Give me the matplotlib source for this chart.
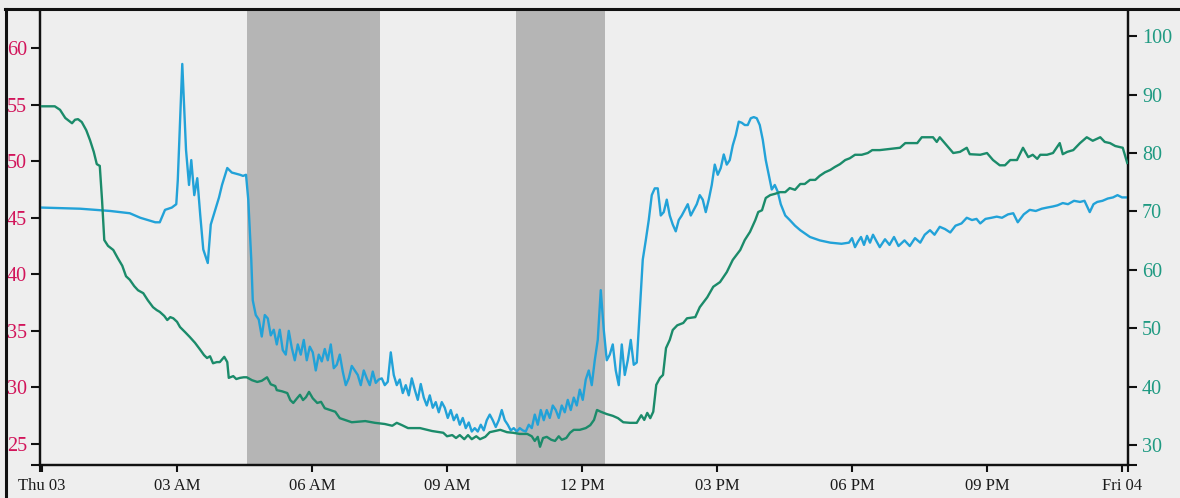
import matplotlib
matplotlib.use("Agg")
import matplotlib.pyplot as plt
from matplotlib.lines import Line2D
import matplotlib.ticker as mticker
import pandas as pd

# ---------------- data ----------------
day_start = pd.Timestamp("2019-01-03 00:00")

# blue series (left axis): minutes after midnight, value
blue_min = [0, 51, 91, 117, 131, 151, 157, 164, 173, 179, 181, 187, 192, 196, 199, 203, 207, 211, 215, 221,
            225, 231, 236, 240, 247, 253, 264, 268, 272, 275, 279, 281, 285, 289, 293, 297, 301, 305, 309, 313,
            317, 321, 325, 329, 333, 337, 341, 345, 349, 353, 357, 361, 365, 369, 373, 377, 381, 385, 389, 393,
            397, 401, 405, 409, 413, 417, 421, 425, 429, 433, 437, 441, 445, 449, 453, 457, 461, 465, 469, 473,
            477, 481, 485, 489, 493, 497, 501, 505, 509, 513, 517, 521, 525, 529, 533, 537, 541, 545, 549, 553,
            557, 561,
            565, 569, 573, 577, 581, 585, 589, 593, 597, 601,
            605, 609, 613, 617, 621, 625, 629, 633, 637, 641,
            645, 649, 653, 657, 661, 665, 669, 673, 677, 681,
            685, 689, 693, 697, 701, 705, 709, 713, 717, 721,
            725, 729, 733, 737, 741, 745, 749, 753, 757, 761,
            765, 769, 773, 777, 781, 785, 789, 793, 797, 801,
            805, 809, 813, 817, 821, 825, 829, 833, 837, 841,
            845, 849, 853, 857, 861, 865, 869, 873, 877, 881,
            885, 889, 893, 897, 901, 905, 909, 913, 917, 921,
            925, 929, 933, 937, 941, 945, 949, 953, 957, 961,
            965, 969, 973, 977, 981,
            985, 991, 997, 1004, 1011, 1024, 1037, 1051, 1066, 1076,
            1080, 1084, 1088, 1092, 1096, 1100, 1104, 1108, 1112, 1117, 1124, 1130, 1136, 1142, 1150, 1157, 1164, 1171,
            1177, 1184, 1190, 1197, 1204, 1211, 1218, 1226, 1233, 1240, 1246, 1251, 1258, 1266, 1273, 1280, 1288, 1295,
            1301, 1309, 1317, 1325, 1333, 1340, 1348, 1354, 1361, 1368, 1376, 1384, 1390, 1397, 1402, 1407, 1414, 1421,
            1428, 1434, 1440, 1446]
blue_val = [45.9, 45.8, 45.6, 45.4, 45.0, 44.6, 44.6, 45.7, 45.9, 46.2, 48.3, 58.6, 51.0, 47.9, 50.1, 47.0, 48.5, 45.2, 42.2, 41.0,
            44.4, 45.7, 46.8, 47.9, 49.4, 49.0, 48.8, 48.7, 48.8, 46.6, 41.3, 37.7, 36.4, 36.0, 34.5, 36.4, 36.1, 34.6, 35.1, 33.8,
            35.1, 33.3, 32.9, 35.0, 33.5, 32.4, 33.8, 32.9, 34.2, 32.4, 33.6, 33.1, 31.5, 32.9, 32.3, 33.4, 32.4, 33.8, 31.7, 32.0,
            32.9, 31.4, 30.2, 30.8, 31.9, 31.5, 31.1, 30.2, 31.5, 30.8, 30.2, 31.4, 30.4, 30.7, 30.8, 30.2, 30.5, 33.1, 31.1, 30.2,
            30.7, 29.5, 30.2, 29.3, 30.8, 29.8, 28.9, 30.3, 29.1, 28.4, 29.3, 28.2, 28.7, 27.8, 28.7, 28.2, 27.3, 28.0, 27.1, 27.6,
            26.7, 27.3,
            26.4, 26.9, 26.1, 26.4, 26.1, 26.7, 26.2, 27.1, 27.6, 27.1,
            26.5, 27.1, 28.0, 27.1, 26.7, 26.2, 26.4, 26.1, 26.4, 26.2,
            26.1, 26.7, 26.4, 27.6, 26.7, 28.0, 27.1, 28.0, 27.3, 28.4,
            28.0, 27.3, 28.4, 27.8, 28.9, 28.0, 29.1, 28.4, 29.8, 28.9,
            30.7, 31.5, 30.2, 32.4, 34.2, 38.6, 35.1, 32.4, 32.9, 33.8,
            31.5, 30.2, 33.8, 31.1, 32.4, 34.2, 32.0, 32.2, 36.8, 41.3,
            43.0, 44.8, 47.0, 47.6, 47.6, 45.2, 45.5, 46.6, 45.2, 44.4,
            43.8, 44.8, 45.2, 45.7, 46.2, 45.2, 45.7, 46.2, 47.0, 46.6,
            45.5, 46.6, 47.9, 49.7, 48.8, 49.4, 50.6, 49.7, 50.1, 51.4,
            52.3, 53.5, 53.4, 53.2, 53.2, 53.8, 53.9, 53.8, 53.2, 51.9,
            50.1, 48.8, 47.5, 47.9, 47.3,
            46.2, 45.2, 44.8, 44.3, 43.9, 43.3, 43.0, 42.8, 42.7, 42.8,
            43.2, 42.4, 42.9, 43.3, 42.6, 43.4, 42.8, 43.5, 43.0, 42.4, 43.1, 42.6, 43.3, 42.5, 43.0, 42.5, 43.2, 42.8,
            43.5, 43.9, 43.5, 44.2, 44.0, 43.7, 44.3, 44.5, 45.0, 44.8, 44.9, 44.5, 44.9, 45.0, 45.1, 45.0, 45.3, 45.4,
            44.6, 45.3, 45.7, 45.6, 45.8, 45.9, 46.0, 46.1, 46.3, 46.2, 46.5, 46.4, 46.5, 45.5, 46.2, 46.4, 46.5, 46.7,
            46.8, 47.0, 46.8, 46.8]

# green series (right axis): minutes after midnight, value
green_min = [0, 17, 24, 31, 40, 44, 48, 53, 59, 64, 69, 73, 77, 80, 83, 88, 95, 101, 107, 112,
             117, 123, 128, 135, 141, 148, 153, 157, 163, 167, 171, 175, 180, 184, 191, 197, 204, 211, 216, 220,
             224, 228, 233, 237, 243, 247, 249, 255, 259, 264, 269, 273, 280, 287, 293, 300, 305, 311, 313, 320,
             327, 331, 335, 340, 344, 348, 352, 356, 361, 367, 372, 377, 384, 391, 397, 404, 413, 431, 444, 457,
             467, 473, 480, 488, 504, 520, 535, 540, 547, 552, 557, 563, 568, 573, 579, 584, 591, 597, 604, 611,
             620, 628, 637, 647, 653, 657, 661, 664, 668, 673, 679, 684, 689, 693, 699, 704, 709, 717, 725, 731,
             736, 740, 745, 753, 761, 768, 775, 784, 793, 799, 803, 807, 811, 815, 819, 824, 828, 832, 837, 841,
             847, 855, 860, 871, 877, 887, 895, 904, 913, 921, 931, 937, 944, 951, 955, 960, 965, 971, 977, 984,
             991, 997, 1004, 1011, 1017, 1024, 1031, 1037, 1044, 1051, 1057, 1064, 1071, 1077, 1084, 1093, 1101, 1107, 1117, 1131,
             1144, 1151, 1167, 1173, 1188, 1193, 1197, 1215, 1224, 1233, 1237, 1251, 1260, 1268, 1277, 1284, 1291, 1300, 1308, 1315,
             1321, 1327, 1331, 1340, 1348, 1357, 1361, 1367, 1375, 1384, 1393, 1401, 1411, 1417, 1424, 1431, 1441, 1447]
green_val = [88.0, 88.0, 87.4, 86.0, 85.1, 85.7, 85.8, 85.3, 83.9, 82.2, 80.2, 78.1, 77.8, 72.0, 65.1, 64.1, 63.4, 62.0, 60.7, 58.9,
             58.3, 57.2, 56.5, 56.0, 54.8, 53.6, 53.1, 52.8, 52.1, 51.4, 51.9, 51.7, 51.1, 50.2, 49.3, 48.5, 47.5, 46.3, 45.4, 44.9,
             45.2, 44.0, 44.2, 44.2, 45.1, 44.2, 41.5, 41.8, 41.3, 41.5, 41.6, 41.6, 41.1, 40.8, 41.0, 41.6, 40.4, 40.1, 39.4, 39.2,
             38.9, 37.7, 37.2, 38.0, 38.6, 37.7, 38.2, 39.1, 38.0, 37.2, 37.4, 36.3, 36.0, 35.7, 34.6, 34.3, 33.9, 34.1, 33.8, 33.6,
             33.3, 33.8, 33.4, 32.9, 32.9, 32.4, 32.1, 31.5, 31.7, 31.2, 31.7, 31.0, 31.7, 31.0, 31.5, 31.0, 31.4, 32.2, 32.4, 32.6,
             32.2, 32.1, 31.9, 31.9, 31.5, 30.7, 31.4, 29.7, 31.2, 31.4, 30.9, 30.7, 31.5, 30.9, 31.2, 32.1, 32.6, 32.6, 32.9, 33.4,
             34.3, 36.0, 35.7, 35.3, 35.0, 34.6, 33.9, 33.8, 33.8, 35.1, 34.3, 35.5, 34.6, 35.7, 40.3, 41.5, 42.0, 46.6, 48.0, 49.7,
             50.5, 50.9, 51.7, 51.9, 53.6, 55.3, 57.1, 57.9, 59.6, 61.7, 63.4, 65.1, 66.5, 68.5, 69.9, 70.2, 72.3, 72.8, 73.0, 73.3,
             73.3, 74.0, 73.7, 74.7, 74.7, 75.4, 75.4, 76.1, 76.7, 77.1, 77.6, 78.1, 78.8, 79.1, 79.7, 79.7, 80.0, 80.5, 80.5, 80.7,
             80.9, 81.7, 81.7, 82.7, 82.7, 81.9, 82.7, 80.0, 80.2, 80.9, 79.8, 79.7, 80.0, 78.8, 77.9, 77.9, 78.8, 78.8, 80.9, 79.3,
             79.7, 79.0, 79.7, 79.7, 80.0, 81.7, 79.8, 80.2, 80.5, 81.7, 82.7, 82.1, 82.7, 81.9, 81.7, 81.2, 80.9, 78.3]

# shaded periods (minutes after midnight)
band_start = [273, 632]
band_end = [451, 751]

left_ticks = [25, 30, 35, 40, 45, 50, 55, 60]
right_ticks = [30, 40, 50, 60, 70, 80, 90, 100]

assert len(blue_min) == len(blue_val), (len(blue_min), len(blue_val))
assert len(green_min) == len(green_val), (len(green_min), len(green_val))

# ---------------- style ----------------
BG = "#eeeeee"
BAND = "#b5b5b5"
BLUE = "#22a2d8"
GREEN = "#1b8b6a"
LEFT_TXT = "#d2145a"
RIGHT_TXT = "#1f9a82"
FONT = "Liberation Serif"

W, H = 1180, 498
fig = plt.figure(figsize=(W / 100, H / 100), dpi=100, facecolor=BG)

ax_l, ax_r, ax_b, ax_t = 40, 1128, 465, 10
ax = fig.add_axes([ax_l / W, 1 - ax_b / H, (ax_r - ax_l) / W, (ax_b - ax_t) / H])
ax.set_facecolor(BG)

def to_dt(mins):
    return [day_start + pd.Timedelta(minutes=m) for m in mins]

blue_t = to_dt(blue_min)
green_t = to_dt(green_min)

for s, e in zip(band_start, band_end):
    ax.axvspan(day_start + pd.Timedelta(minutes=s), day_start + pd.Timedelta(minutes=e),
               color=BAND, lw=0, zorder=0)

ax.plot(blue_t, blue_val, color=BLUE, lw=1.7, zorder=3, solid_joinstyle="round")

ax2 = ax.twinx()
ax2.plot(green_t, green_val, color=GREEN, lw=1.7, zorder=3, solid_joinstyle="round")

xmin = day_start + pd.Timedelta(minutes=-2.7)
xmax = day_start + pd.Timedelta(minutes=1448)
ax.set_xlim(xmin, xmax)
ax.set_ylim(23.14, 63.37)
ax2.set_ylim(26.58, 104.49)

# x ticks every 3 hours
xt = [day_start + pd.Timedelta(hours=h) for h in range(0, 25, 3)]
ax.set_xticks(xt)
def fmt(t):
    if t.hour == 0:
        return t.strftime("%a %d")
    return t.strftime("%I %p")
ax.set_xticklabels([fmt(t) for t in xt], fontfamily=FONT, fontsize=12, color="#1a1a1a")
ax.set_xticks([xmin, xmax], minor=True)

ax.set_yticks(left_ticks)
ax.set_yticklabels([str(v) for v in left_ticks], fontfamily=FONT, fontsize=14.5, color=LEFT_TXT)
ax.set_yticks([23.14, 63.37], minor=True)
ax2.set_yticks(right_ticks)
ax2.set_yticklabels([str(v) for v in right_ticks], fontfamily=FONT, fontsize=14.5, color=RIGHT_TXT)
ax2.set_yticks([26.58], minor=True)

ax.tick_params(axis="x", which="both", length=5, width=1.5, color="#111111", pad=4)
ax.tick_params(axis="y", which="both", length=6.5, width=1.5, color="#111111", pad=3)
ax2.tick_params(axis="y", which="both", length=6.5, width=1.5, color="#111111", pad=3.5)
for a in (ax.xaxis, ax.yaxis, ax2.yaxis):
    a.set_minor_formatter(mticker.NullFormatter())

for a in (ax, ax2):
    a.spines["top"].set_visible(False)
    for sp in ("left", "right", "bottom"):
        a.spines[sp].set_linewidth(1.6)
        a.spines[sp].set_color("#111111")

# outer frame (top and left edges)
fig.add_artist(Line2D([5 / W, 1], [1 - 9 / H, 1 - 9 / H], transform=fig.transFigure,
                      color="#111111", lw=2.2))
fig.add_artist(Line2D([6 / W, 6 / W], [0, 1 - 9 / H], transform=fig.transFigure,
                      color="#111111", lw=2.2))

fig.savefig("out.png", dpi=100, facecolor=BG)
